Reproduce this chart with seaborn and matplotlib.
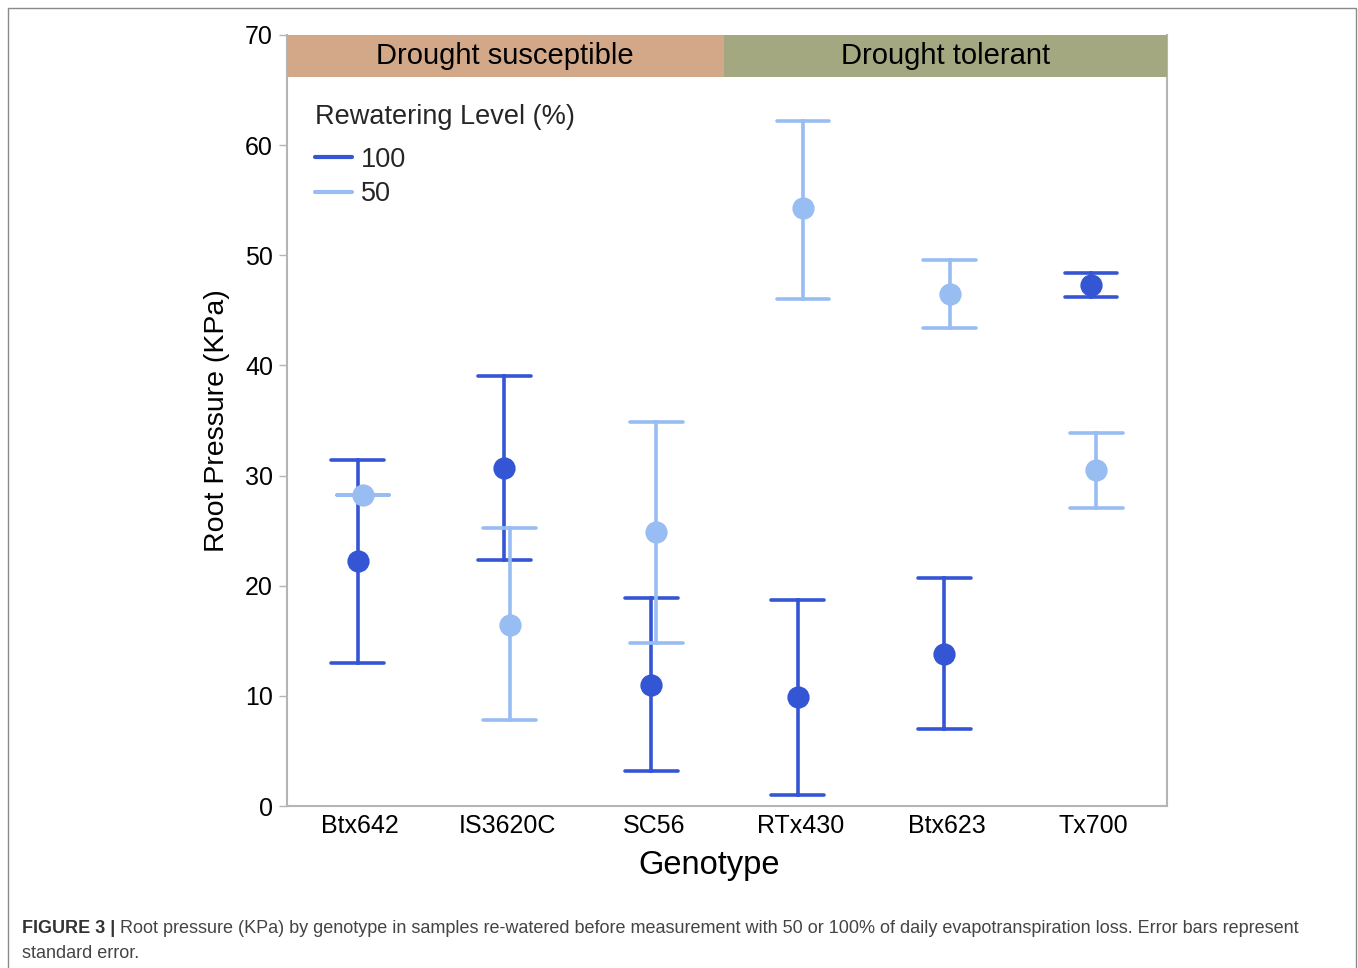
import pandas as pd
import seaborn as sns
import matplotlib.pyplot as plt
from matplotlib.lines import Line2D
from matplotlib.patches import Rectangle

# genotypes and rewatering levels
genotypes = ['Btx642', 'IS3620C', 'SC56', 'RTx430', 'Btx623', 'Tx700']
levels = ['100', '50']

# mean root pressure (KPa) and the error bar ends (mean -/+ SE)
mean_100 = [22.2, 30.7, 11.0, 9.9, 13.8, 47.3]
low_100 = [13.0, 22.3, 3.2, 1.0, 7.0, 46.2]
high_100 = [31.4, 39.0, 18.9, 18.7, 20.7, 48.4]

mean_50 = [28.2, 16.4, 24.9, 54.3, 46.5, 30.5]
low_50 = [28.2, 7.8, 14.8, 46.0, 43.4, 27.1]
high_50 = [28.2, 25.2, 34.9, 62.2, 49.6, 33.9]

groups = ['Drought susceptible', 'Drought tolerant']

dark_blue = '#3556d4'
light_blue = '#98bdf3'
palette = {'100': dark_blue, '50': light_blue}

# long table: three rows per point (low, mean, high) -> median = mean, 100% interval = bar
rows = []
for lvl, m, lo, hi in [('100', mean_100, low_100, high_100), ('50', mean_50, low_50, high_50)]:
    for g, a, b, c in zip(genotypes, m, lo, hi):
        for v in (b, a, c):
            rows.append({'Genotype': g, 'Level': lvl, 'Pressure': v})
df = pd.DataFrame(rows)

sns.set_theme(style='white')
plt.rcParams['font.family'] = ['Liberation Sans', 'DejaVu Sans']

fig = plt.figure(figsize=(13.58, 9.68), dpi=100)
W, H = 1358, 968
ax = fig.add_axes([287 / W, (H - 806) / H, 880 / W, (806 - 35) / H])

sns.pointplot(data=df, x='Genotype', y='Pressure', hue='Level', order=genotypes,
              hue_order=levels, palette=palette, estimator='median',
              errorbar=('pi', 100), linestyle='none', markers='o', markersize=14,
              dodge=0.035, capsize=0.36, err_kws={'linewidth': 2.6}, legend=False, ax=ax)

ax.set_ylim(0, 70)
ax.set_xlim(-0.5, 5.5)
ax.set_yticks(range(0, 80, 10))

# header bands (x in axes fraction, y in data)
band_bottom = 66.2
ax.axhspan(band_bottom, 70, xmin=0, xmax=0.497, color='#d2a888', lw=0, zorder=5)
ax.axhspan(band_bottom, 70, xmin=0.497, xmax=1, color='#a3a881', lw=0, zorder=5)
tr = ax.get_yaxis_transform()
ax.text(0.248, (band_bottom + 70) / 2, groups[0], transform=tr,
        ha='center', va='center', fontsize=21, color='black', zorder=6)
ax.text(0.7485, (band_bottom + 70) / 2, groups[1], transform=tr,
        ha='center', va='center', fontsize=21, color='black', zorder=6)

for side in ['left', 'bottom', 'right']:
    ax.spines[side].set_color('#b5b5b5')
    ax.spines[side].set_linewidth(1.5)
ax.spines['top'].set_visible(False)

ax.tick_params(axis='y', left=True, length=6, width=1, color='#b5b5b5',
               labelsize=18, pad=4, labelcolor='black')
ax.tick_params(axis='x', bottom=False, labelsize=18, pad=-0.5, labelcolor='black')
ax.set_xlabel('Genotype', fontsize=23.5, color='black')
ax.set_ylabel('Root Pressure (KPa)', fontsize=20.5, labelpad=11, color='black')
ax.xaxis.set_label_coords(0.48, -0.057)

handles = [Line2D([], [], color=dark_blue, lw=3), Line2D([], [], color=light_blue, lw=3)]
leg = ax.legend(handles, levels, title='Rewatering Level (%)', loc='upper left',
                bbox_to_anchor=(0.019, 0.924), frameon=False, fontsize=19.5,
                title_fontsize=19.5, handlelength=1.4, handletextpad=0.3,
                labelspacing=0.3, borderaxespad=0, alignment='left')
leg._legend_box.sep += 6

# outer frame
fig.patches.append(Rectangle((8 / W, -0.01), (1356 - 8) / W, 1 - 8 / H + 0.01,
                             transform=fig.transFigure, fill=False, ec='#8a8a8a', lw=1))

# caption
cap_font = ['Liberation Sans', 'DejaVu Sans']
renderer = fig.canvas.get_renderer()
t1 = fig.text(22 / W, 1 - 933 / H, 'FIGURE 3 |', fontsize=13, fontweight='bold',
              family=cap_font, color='#333333', va='baseline')
bb = t1.get_window_extent(renderer)
fig.text((bb.x1 + 5) / W, 1 - 933 / H,
         'Root pressure (KPa) by genotype in samples re-watered before measurement with 50 or '
         '100% of daily evapotranspiration loss. Error bars represent',
         fontsize=13, family=cap_font, color='#444444', va='baseline')
fig.text(22 / W, 1 - 958 / H, 'standard error.', fontsize=13, family=cap_font,
         color='#444444', va='baseline')

fig.savefig('out.png', dpi=100)
